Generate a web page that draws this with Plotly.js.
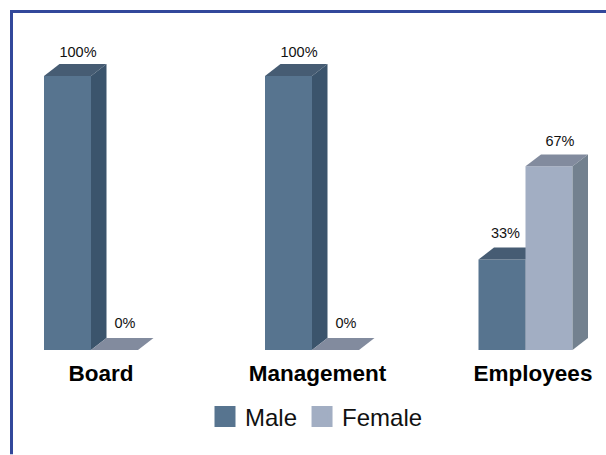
<!DOCTYPE html>
<html>
<head>
<meta charset="utf-8">
<script src="https://cdn.plot.ly/plotly-3.0.1.min.js"></script>
<style>html,body{margin:0;padding:0;background:#fff}</style>
</head>
<body>
<div id="chart" style="width:606px;height:455px"></div>
<script>
const categories = ['Board', 'Management', 'Employees'];
const male = [100, 100, 33];
const female = [0, 0, 67];
const valueLabels = { male: ['100%', '100%', '33%'], female: ['0%', '0%', '67%'] };

const W = 606, H = 455, BASE = 350.5, TOP = 20, PX_PER_UNIT = 2.745;
const groupCentres = [91, 312, 525.5];
const labelCentres = [101, 317.5, 533];
const BAR = 47, DX = 15.5, DY = 12 / PX_PER_UNIT;
const maleNudge = [10.5, 10.5, 3.5], femaleNudge = [10.5, 10.5, 11];
const maleLift = [8.4, 8.4, 9.3], femaleLift = [9.3, 9.3, 8.6];

const FONT = '"Liberation Sans", Arial, sans-serif';
const COL = {
  male: { front: '#57748f', side: '#3b546c', top: '#465c73' },
  female: { front: '#a2aec3', side: '#73818f', top: '#828b9e' }
};

function polygon(xs, ys, color, ax) {
  return { type: 'scatter', x: xs, y: ys, mode: 'lines', fill: 'toself', fillcolor: color,
    line: { width: 0, color: color }, hoverinfo: 'skip', showlegend: false, xaxis: ax[0], yaxis: ax[1] };
}

function series(values, labels, sign, col, nudge, lift, ax) {
  const out = [];
  const lefts = groupCentres.map(c => c + (sign > 0 ? 0 : -BAR));
  out.push({ type: 'bar', x: lefts.map(l => l + BAR / 2), y: values, width: BAR,
    marker: { color: col.front, line: { width: 0 } }, showlegend: false, hoverinfo: 'y',
    xaxis: ax[0], yaxis: ax[1] });
  values.forEach((v, i) => {
    const l = lefts[i], r = l + BAR;
    out.push(polygon([l, l + DX, r + DX, r, l], [v, v + DY, v + DY, v, v], col.top, ax));
    if (v > 0) {
      out.push(polygon([r, r + DX, r + DX, r, r], [0, DY, v + DY, v, 0], col.side, ax));
    }
  });
  out.push({ type: 'scatter', mode: 'text', x: lefts.map((l, i) => l + BAR / 2 + nudge[i]),
    y: values.map((v, i) => v + lift[i]), text: labels, textposition: 'middle center',
    textfont: { family: FONT, size: 14.5, color: '#111' }, hoverinfo: 'skip', showlegend: false,
    xaxis: ax[0], yaxis: ax[1] });
  return out;
}

function legendEntry(name, color) {
  return { type: 'scatter', mode: 'markers', name: name, x: [null], y: [null],
    marker: { symbol: 'square', size: 16, color: color, line: { width: 5, color: color } } };
}

const traces = [
  ...series(male, valueLabels.male, -1, COL.male, maleNudge, maleLift, ['x', 'y']),
  ...series(female, valueLabels.female, 1, COL.female, femaleNudge, femaleLift, ['x2', 'y2']),
  legendEntry('Male', COL.male.front),
  legendEntry('Female', COL.female.front)
];

const plotH = BASE - TOP;
const yRange = [0, plotH / PX_PER_UNIT];
const py = p => (BASE - p) / plotH;
const hiddenY = { range: yRange, visible: false, fixedrange: true };

const layout = {
  width: W, height: H, showlegend: true, barmode: 'overlay',
  paper_bgcolor: '#fff', plot_bgcolor: 'rgba(0,0,0,0)',
  margin: { l: 0, r: 0, t: TOP, b: H - BASE, pad: 0, autoexpand: false },
  xaxis: { range: [0, W], tickmode: 'array', tickvals: labelCentres, ticktext: categories,
    tickfont: { family: FONT, size: 22.5, color: '#000', weight: 'bold' },
    ticks: 'outside', ticklen: 3, tickcolor: 'rgba(0,0,0,0)', showgrid: false, zeroline: false,
    showline: false, fixedrange: true },
  yaxis: hiddenY,
  xaxis2: { range: [0, W], overlaying: 'x', visible: false, fixedrange: true },
  yaxis2: Object.assign({ overlaying: 'y' }, hiddenY),
  legend: { orientation: 'h', x: 205 / W, xanchor: 'left', y: py(395), yanchor: 'top',
    bgcolor: 'rgba(0,0,0,0)', font: { family: FONT, size: 24, color: '#111' },
    traceorder: 'normal', itemwidth: 30 },
  shapes: [
    { type: 'line', xref: 'paper', yref: 'paper', x0: 11 / W, x1: 1, y0: py(11.5), y1: py(11.5),
      line: { color: '#32489b', width: 3 } },
    { type: 'line', xref: 'paper', yref: 'paper', x0: 11.5 / W, x1: 11.5 / W, y0: py(10), y1: py(H),
      line: { color: '#32489b', width: 3 } }
  ]
};

Plotly.newPlot('chart', traces, layout, { displayModeBar: false, staticPlot: true });
</script>
</body>
</html>
